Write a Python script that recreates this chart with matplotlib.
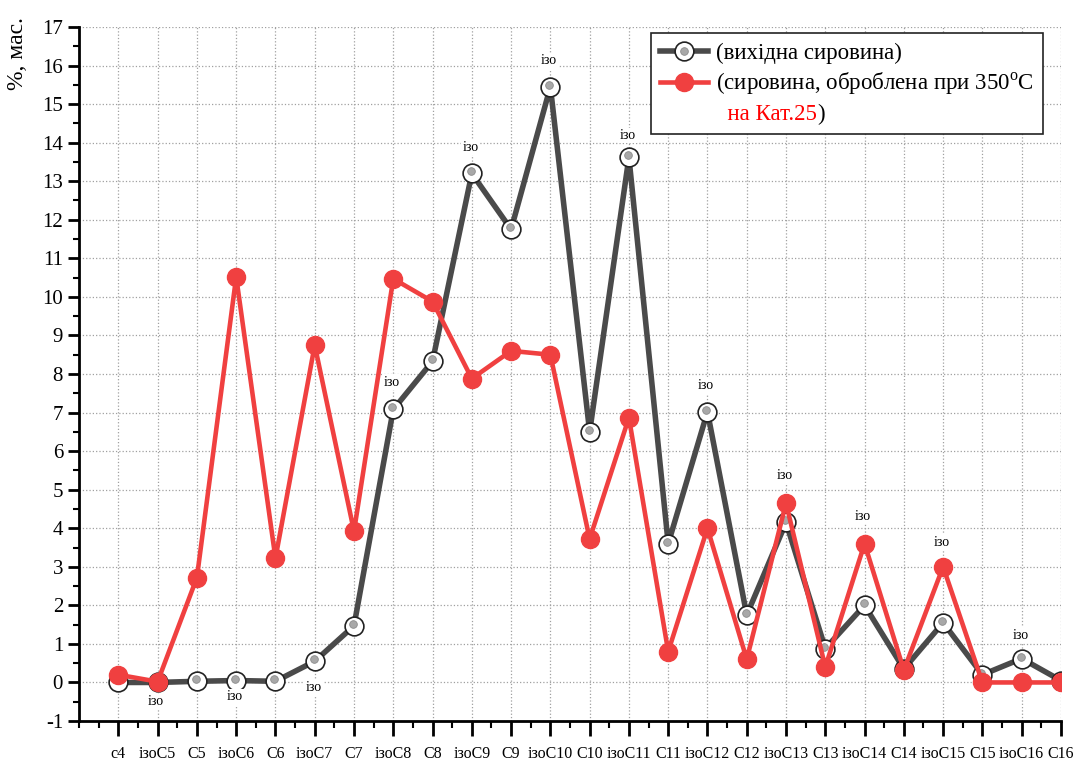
import matplotlib
matplotlib.use('Agg')
import matplotlib.pyplot as plt
from matplotlib.lines import Line2D
from matplotlib.ticker import MultipleLocator
from matplotlib.transforms import offset_copy

plt.rcParams['font.family'] = ['Liberation Serif', 'DejaVu Serif']
plt.rcParams['mathtext.fontset'] = 'custom'
plt.rcParams['mathtext.rm'] = 'Liberation Serif'
plt.rcParams['axes.unicode_minus'] = False

# категорії по осі x
categories = ['c4', 'ізоC5', 'C5', 'ізоC6', 'C6', 'ізоC7', 'C7', 'ізоC8', 'C8',
              'ізоC9', 'C9', 'ізоC10', 'C10', 'ізоC11', 'C11', 'ізоC12', 'C12',
              'ізоC13', 'C13', 'ізоC14', 'C14', 'ізоC15', 'C15', 'ізоC16', 'C16']

# вихідна сировина
raw = [0.0, 0.0, 0.03, 0.05, 0.03, 0.55, 1.47, 7.08, 8.33, 13.2, 11.75, 15.45,
       6.5, 13.62, 3.6, 7.02, 1.75, 4.15, 0.88, 2.0, 0.35, 1.55, 0.2, 0.62, 0.05]

# сировина, оброблена при 350 C на Кат.25
treated = [0.2, 0.02, 2.72, 10.52, 3.22, 8.75, 3.92, 10.47, 9.88, 7.88, 8.6, 8.5,
           3.72, 6.87, 0.8, 4.0, 0.6, 4.65, 0.4, 3.6, 0.32, 3.0, 0.0, 0.0, 0.0]

# підписи "ізо": індекс точки і до якої кривої прив'язаний
iso_idx = [1, 3, 5, 7, 9, 11, 13, 15, 17, 19, 21, 23]
iso_series = ['raw', 'raw', 'raw', 'raw', 'raw', 'raw', 'raw', 'raw',
              'treated', 'treated', 'treated', 'raw']
iso_offset = [-9, -7, -14, 15, 14, 14, 11, 14, 15, 15, 13, 12]  # pt, <0 = під точкою

x = list(range(len(categories)))

fig = plt.figure(figsize=(10.76, 7.6), dpi=100)
ax = fig.add_axes([0.0735, 0.0513, 0.9125, 0.9132])

dark = '#4a4a4a'
red = '#f04040'

l_raw, = ax.plot(x, raw, color=dark, lw=4.0, marker='o', ms=13.5, mfc='white',
                 mec='#222222', mew=1.2, zorder=3)
# сірий "блік" у маркері
hl = offset_copy(ax.transData, fig=fig, x=-1, y=2, units='dots')
l_hl, = ax.plot(x, raw, ls='none', marker='o', ms=5.5, mfc='#a8a8a8', mec='#8a8a8a',
                mew=0.6, transform=hl, zorder=4)

l_tr, = ax.plot(x, treated, color=red, lw=3.3, marker='o', ms=13, mfc=red, mec=red,
                zorder=5)

for i, s, off in zip(iso_idx, iso_series, iso_offset):
    y0 = raw[i] if s == 'raw' else treated[i]
    ax.annotate('ізо', xy=(x[i], y0), xytext=(-1, off), textcoords='offset points',
                ha='center', va='bottom' if off > 0 else 'top', fontsize=10, zorder=6,
                bbox=dict(boxstyle='square,pad=0.1', fc='white', ec='none'))

ax.set_xlim(-1, 24)
ax.set_ylim(-1, 17)
ax.set_xticks(x)
ax.set_xticklabels(categories, fontsize=11.5)
ax.xaxis.set_minor_locator(MultipleLocator(0.5))
ax.yaxis.set_major_locator(MultipleLocator(1))
ax.yaxis.set_minor_locator(MultipleLocator(0.5))
ax.tick_params(axis='y', which='major', labelsize=15, length=8, width=2, direction='out')
ax.tick_params(axis='y', which='minor', length=4, width=1.5, direction='out')
ax.tick_params(axis='x', which='major', length=11, width=2, direction='out', pad=7)
ax.tick_params(axis='x', which='minor', length=5, width=1.5, direction='out')

for s in ['top', 'right']:
    ax.spines[s].set_visible(False)
ax.spines['left'].set_linewidth(2)
ax.spines['bottom'].set_linewidth(2)

ax.grid(True, which='major', ls=':', color='#a0a0a0', lw=0.9)
ax.set_axisbelow(True)

fig.text(0.016, 0.978, '%, мас.', rotation=90, va='top', ha='center', fontsize=17)

blank = Line2D([], [], color='none')
leg = ax.legend([(l_raw, l_hl), l_tr, blank],
                ['(вихідна сировина)', '(сировина, оброблена при 350$^{\\mathrm{o}}$C',
                 '  на Кат.25'],
                loc='upper right', bbox_to_anchor=(0.982, 0.991), fontsize=16.5,
                frameon=True, fancybox=False, edgecolor='#222222', framealpha=1,
                handlelength=2.1, handletextpad=0.35, borderpad=0.4, labelspacing=0.3,
                borderaxespad=0)
leg.get_frame().set_linewidth(1.2)
leg.set_zorder(10)
t3 = leg.get_texts()[2]
t3.set_color('red')
ax.annotate(')', xy=(1, 0), xycoords=t3, ha='left', va='bottom',
            fontsize=16.5, color='black', zorder=11)

plt.savefig('out.png', dpi=100)
